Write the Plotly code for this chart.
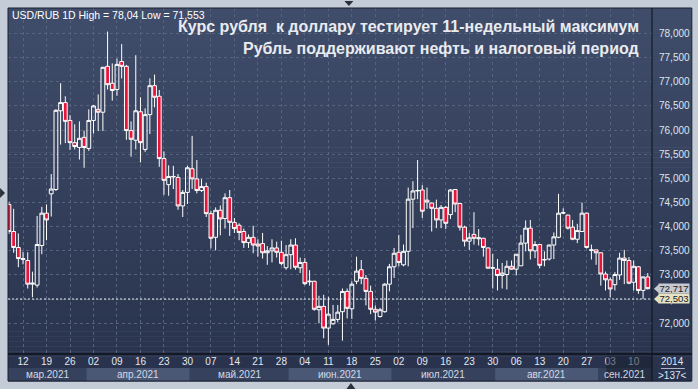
import plotly.graph_objects as go
import pandas as pd

# ---------------- data ----------------
dates = pd.bdate_range("2021-03-09", "2021-09-15")  # 137 daily bars

open_ = [74.46, 73.90, 73.57, 73.32, 73.30, 72.81, 72.79, 73.61, 74.28, 74.68,
         74.77, 76.40, 76.57, 76.20, 75.74, 75.64, 75.85, 75.62, 76.20, 76.43,
         76.37, 77.32, 76.97, 76.84, 77.42, 77.32, 75.99, 75.79, 76.38, 75.60,
         76.32, 76.92, 76.70, 75.41, 74.87, 75.03, 75.02, 74.43, 74.71, 75.20,
         74.99, 74.75, 74.83, 74.27, 73.78, 74.34, 74.17, 74.60, 74.09, 74.03,
         73.90, 73.67, 73.78, 73.64, 73.65, 73.46, 73.50, 73.56, 73.47, 73.15,
         73.42, 73.62, 73.15, 73.26, 72.86, 72.87, 72.28, 72.35, 71.90, 71.99,
         72.08, 72.24, 72.66, 72.30, 72.87, 73.11, 72.93, 72.66, 72.29, 72.14,
         72.24, 72.81, 73.17, 73.47, 73.21, 73.49, 74.57, 74.74, 74.76, 74.55,
         74.49, 74.38, 74.14, 74.40, 74.25, 74.77, 74.48, 73.99, 73.70, 73.84,
         73.75, 73.76, 73.56, 73.14, 73.12, 72.99, 73.01, 73.18, 73.12, 73.19,
         73.66, 73.97, 73.50, 73.63, 73.31, 73.33, 73.62, 73.78, 74.28, 74.24,
         73.99, 73.74, 73.90, 74.28, 73.51, 73.52, 73.46, 73.02, 72.90, 72.80,
         73.00, 73.35, 73.30, 72.85, 73.17, 72.68, 72.96]
high = [74.52, 74.37, 73.86, 73.48, 73.47, 73.07, 74.22, 74.41, 74.46, 75.09,
        76.43, 76.97, 76.70, 76.31, 76.12, 76.18, 75.99, 76.43, 76.52, 76.74,
        77.31, 78.04, 77.38, 77.48, 77.78, 77.35, 76.18, 77.55, 76.68, 76.45,
        77.07, 77.15, 76.83, 75.56, 75.27, 75.26, 75.09, 74.76, 75.26, 75.88,
        75.38, 74.99, 74.91, 74.33, 74.40, 74.44, 74.69, 74.76, 74.18, 74.07,
        73.96, 73.84, 74.02, 73.74, 73.87, 73.60, 73.74, 73.69, 73.71, 73.62,
        73.74, 73.76, 73.36, 73.35, 73.10, 72.88, 72.57, 72.59, 72.55, 72.38,
        72.38, 72.72, 72.72, 72.87, 73.38, 73.31, 73.00, 72.78, 72.37, 72.32,
        72.83, 73.23, 73.56, 73.83, 73.63, 74.81, 74.94, 75.38, 74.86, 74.81,
        74.50, 74.56, 74.45, 74.43, 74.78, 74.78, 74.49, 74.02, 73.87, 74.30,
        73.95, 73.77, 73.57, 73.44, 73.33, 73.25, 73.30, 73.30, 73.43, 73.83,
        74.13, 74.14, 73.70, 73.64, 73.49, 73.63, 73.88, 74.68, 74.38, 74.25,
        74.14, 74.06, 74.50, 74.29, 73.63, 73.52, 73.47, 73.07, 72.95, 73.06,
        73.46, 73.52, 73.37, 73.30, 73.18, 72.97, 73.04]
low = [73.85, 73.46, 73.16, 73.22, 72.72, 72.54, 72.74, 73.43, 73.72, 74.21,
       74.74, 75.70, 75.73, 75.59, 75.60, 75.39, 75.22, 75.57, 75.93, 75.98,
       75.98, 76.84, 76.61, 76.71, 77.07, 75.80, 75.45, 75.60, 75.33, 75.55,
       75.92, 76.47, 75.24, 74.66, 74.64, 74.78, 74.35, 74.20, 74.47, 74.78,
       74.69, 74.72, 74.20, 73.55, 73.51, 73.82, 73.96, 73.81, 73.87, 73.72,
       73.56, 73.56, 73.45, 73.38, 73.34, 73.21, 73.26, 73.36, 73.20, 73.11,
       73.12, 73.11, 73.04, 72.79, 72.78, 72.26, 72.00, 71.69, 71.553, 71.97,
       72.02, 71.64, 72.10, 72.09, 72.81, 72.81, 72.37, 72.19, 72.06, 72.12,
       72.22, 72.66, 72.94, 73.18, 73.18, 73.18, 73.97, 74.57, 74.18, 74.37,
       73.90, 73.97, 73.97, 73.95, 74.16, 74.30, 73.92, 73.59, 73.52, 73.63,
       73.61, 73.38, 73.14, 72.72, 72.68, 72.72, 72.70, 73.11, 72.99, 73.19,
       73.49, 73.32, 73.35, 73.14, 73.18, 73.30, 73.33, 73.76, 74.26, 73.94,
       73.72, 73.66, 73.90, 73.55, 73.32, 73.21, 72.78, 72.68, 72.54, 72.68,
       72.90, 72.81, 72.81, 72.68, 72.61, 72.50, 72.70]
close = [73.90, 73.57, 73.34, 73.34, 72.81, 72.83, 73.63, 74.28, 74.14, 74.78,
         76.41, 76.57, 76.18, 75.74, 75.66, 75.83, 75.64, 76.20, 76.50, 76.37,
         77.30, 76.94, 76.82, 77.36, 77.32, 75.99, 75.81, 76.40, 75.74, 76.32,
         76.92, 76.68, 75.41, 74.96, 75.04, 75.04, 74.43, 74.71, 75.22, 74.99,
         74.75, 74.83, 74.27, 73.76, 74.34, 74.16, 74.60, 74.09, 73.96, 73.88,
         73.67, 73.78, 73.62, 73.60, 73.46, 73.50, 73.56, 73.47, 73.24, 73.42,
         73.62, 73.16, 73.26, 72.82, 72.87, 72.29, 72.35, 71.90, 72.19, 72.08,
         72.23, 72.66, 72.31, 72.81, 73.08, 72.93, 72.66, 72.29, 72.23, 72.28,
         72.81, 73.17, 73.45, 73.26, 73.49, 74.57, 74.74, 74.75, 74.32, 74.51,
         74.38, 74.14, 74.40, 74.07, 74.76, 74.47, 73.99, 73.70, 73.77, 73.76,
         73.77, 73.57, 73.14, 73.15, 72.99, 73.04, 73.18, 73.12, 73.43, 73.66,
         73.97, 73.50, 73.63, 73.20, 73.32, 73.62, 73.79, 74.28, 74.29, 73.97,
         73.74, 73.92, 74.28, 73.57, 73.52, 73.46, 73.02, 72.90, 72.71, 73.01,
         73.35, 73.30, 72.83, 73.18, 72.68, 72.96, 72.717]

y_tick_values = [72.0, 72.5, 73.0, 73.5, 74.0, 74.5, 75.0, 75.5, 76.0, 76.5,
                 77.0, 77.5, 78.0]
month_labels = {3: "мар.2021", 4: "апр.2021", 5: "май.2021", 6: "июн.2021",
                7: "июл.2021", 8: "авг.2021", 9: "сен.2021"}
bid_line = 72.503
year_label = "2014"
title_lines = ["Курс рубля  к доллару тестирует 11-недельный максимум",
               "Рубль поддерживают нефть и налоговый период"]
symbol_label = "USD/RUB 1D"

# ---------------- geometry / style ----------------
W, H = 698, 389
PL, PR, PT, PB = 8, 655, 8, 354          # plot area in pixels
FR_R, FR_B = 695, 381                    # outer dark frame right/bottom
FONT = "Liberation Sans, Arial, sans-serif"
XR = [-0.2, 136.9]
YR = [71.364, 78.528]

def pxx(p):
    return (p - PL) / (PR - PL)

def pxy(p):
    return (PB - p) / (PB - PT)

def idx_paper(i):
    return (i - XR[0]) / (XR[1] - XR[0])

def val_py(v):
    return PB - (v - YR[0]) / (YR[1] - YR[0]) * (PB - PT)

def fmt(v, nd=3):
    return f"{v:.{nd}f}".replace(".", ",")

x = list(range(len(dates)))

fig = go.Figure()
fig.add_trace(go.Candlestick(
    x=x, open=open_, high=high, low=low, close=close,
    increasing=dict(line=dict(color="#ffffff", width=1), fillcolor="rgba(0,0,0,0)"),
    decreasing=dict(line=dict(color="#ffffff", width=1), fillcolor="#e8153b"),
    whiskerwidth=0, hoverinfo="skip", showlegend=False,
))

shapes = []
annotations = []

# gradient background of the dark frame
top_c = (64, 77, 106)
bot_c = (40, 50, 76)
N = 75
for k in range(N):
    y0 = PT + (FR_B - PT) * k / N
    y1 = PT + (FR_B - PT) * (k + 1) / N
    t = k / (N - 1)
    c = tuple(round(top_c[j] + (bot_c[j] - top_c[j]) * t) for j in range(3))
    shapes.append(dict(type="rect", xref="paper", yref="paper", layer="below",
                       x0=pxx(PL), x1=pxx(FR_R), y0=pxy(y1 + 0.6), y1=pxy(y0),
                       line=dict(width=0), fillcolor=f"rgb{c}"))

# month bands under the date labels
month_starts = []
for i, d in enumerate(dates):
    if i == 0 or d.month != dates[i - 1].month:
        month_starts.append((i, d.month))
for k, (i, m) in enumerate(month_starts):
    x0 = max(idx_paper(i - 0.5), 0.0)
    nxt = month_starts[k + 1][0] if k + 1 < len(month_starts) else None
    x1 = min(idx_paper(nxt - 0.5), 1.0) if nxt is not None else 1.0
    color = "#4a5876" if k % 2 == 1 else "#36425d"
    shapes.append(dict(type="rect", xref="paper", yref="paper", layer="below",
                       x0=x0, x1=x1, y0=pxy(381), y1=pxy(368),
                       line=dict(width=0), fillcolor=color))
    annotations.append(dict(xref="paper", yref="paper", x=(x0 + x1) / 2, y=pxy(374.5),
                            text=month_labels[m], showarrow=False,
                            font=dict(family=FONT, size=10, color="#d3dae6"),
                            xanchor="center", yanchor="middle"))

# dark overlay over the last dates on the time axis
shapes.append(dict(type="rect", xref="paper", yref="paper", layer="above",
                   x0=pxx(609), x1=pxx(PR), y0=pxy(381), y1=pxy(356),
                   line=dict(width=0), fillcolor="rgba(25,31,48,0.55)"))

# frame lines
shapes.append(dict(type="rect", xref="paper", yref="paper", layer="above",
                   x0=pxx(PL), x1=pxx(FR_R), y0=pxy(FR_B), y1=pxy(PT),
                   line=dict(width=1, color="#1b2030")))
shapes.append(dict(type="line", xref="paper", yref="paper", layer="above",
                   x0=1, x1=1, y0=pxy(FR_B), y1=1, line=dict(width=1, color="#0d1018")))
shapes.append(dict(type="line", xref="paper", yref="paper", layer="above",
                   x0=0, x1=pxx(FR_R), y0=0, y1=0, line=dict(width=1.5, color="#0d1018")))

# bid dashed line
shapes.append(dict(type="line", xref="paper", yref="y", layer="above",
                   x0=0, x1=1, y0=bid_line, y1=bid_line,
                   line=dict(width=1, color="rgba(255,255,255,0.9)", dash="2px,2px")))

# little window markers
def tri(points, color="#2a2f3a"):
    p = "M " + " L ".join(f"{pxx(a)},{pxy(b)}" for a, b in points) + " Z"
    return dict(type="path", xref="paper", yref="paper", layer="above", path=p,
                fillcolor=color, line=dict(width=0))

shapes.append(tri([(346, 1), (355, 1), (350.5, 6)]))
shapes.append(tri([(348, 389), (357, 389), (352.5, 383)]))
shapes.append(tri([(0, 188), (0, 198), (5, 193)]))

# price labels on the right axis
for val, bg in [(close[-1], "#c7cad0"), (bid_line, "#e6e2c4")]:
    yc = val_py(val)
    shapes.append(tri([(657, yc), (662, yc - 4.5), (662, yc + 4.5)], color=bg))
    annotations.append(dict(xref="paper", yref="paper", x=pxx(661.5), y=pxy(yc),
                            text=fmt(val), showarrow=False, xanchor="left",
                            yanchor="middle", bgcolor=bg, borderpad=0,
                            width=30, height=9,
                            font=dict(family=FONT, size=9.5, color="#1a1a1a")))

# bottom-right box
shapes.append(dict(type="line", xref="paper", yref="paper", layer="above",
                   x0=pxx(664), x1=pxx(688), y0=pxy(368.5), y1=pxy(368.5),
                   line=dict(width=1, color="#aab4c4")))
annotations.append(dict(xref="paper", yref="paper", x=pxx(675.5), y=pxy(361.5),
                        text=year_label, showarrow=False, xanchor="center", yanchor="middle",
                        font=dict(family=FONT, size=10, color="#dfe5ee")))
annotations.append(dict(xref="paper", yref="paper", x=pxx(675.5), y=pxy(375.5),
                        text=f">{len(dates)}<", showarrow=False, xanchor="center",
                        yanchor="middle", font=dict(family=FONT, size=10, color="#dfe5ee")))

# header label
hi = max(high)
lo = min(low)
hdr = f"{symbol_label} High = {fmt(hi).rstrip('0').rstrip(',')} Low = {fmt(lo)}"
annotations.append(dict(xref="paper", yref="paper", x=pxx(10), y=pxy(15),
                        text=hdr, showarrow=False, xanchor="left", yanchor="middle",
                        font=dict(family=FONT, size=10.5, color="#ffffff")))

# title lines
for txt, yy in zip(title_lines, [27, 49]):
    annotations.append(dict(xref="paper", yref="paper", x=pxx(644), y=pxy(yy),
                            text=f"<b>{txt}</b>", showarrow=False, xanchor="right",
                            yanchor="middle",
                            font=dict(family=FONT, size=16, color="#e9ebf0")))

tick_idx = [i for i, d in enumerate(dates) if d.weekday() == 4]
tick_txt = [f"{dates[i].day:02d}" for i in tick_idx]

fig.update_layout(
    width=W, height=H,
    margin=dict(l=PL, r=W - PR, t=PT, b=H - PB, pad=0),
    paper_bgcolor="#c3ccd7",
    plot_bgcolor="rgba(0,0,0,0)",
    separators=", ",
    boxgap=0.15, boxgroupgap=0.05,
    shapes=shapes,
    annotations=annotations,
    showlegend=False,
    xaxis=dict(range=XR, tickvals=tick_idx, ticktext=tick_txt, showgrid=True,
               gridcolor="#56637f", griddash="3px,3px", gridwidth=1,
               zeroline=False, showline=False, ticks="",
               tickfont=dict(family=FONT, size=10, color="#e2e7ef"),
               rangeslider=dict(visible=False), fixedrange=True),
    yaxis=dict(range=YR, side="right", tickvals=y_tick_values, tickformat=".3f",
               showgrid=True, gridcolor="#56637f", griddash="3px,3px", gridwidth=1,
               zeroline=False, showline=False, ticks="", ticklabelstandoff=6,
               tickfont=dict(family=FONT, size=10, color="#dfe5ee"), fixedrange=True),
)

fig.write_html("out.html", config={"displayModeBar": False},
               post_script="document.body.style.margin='0';document.body.style.overflow='hidden';")
